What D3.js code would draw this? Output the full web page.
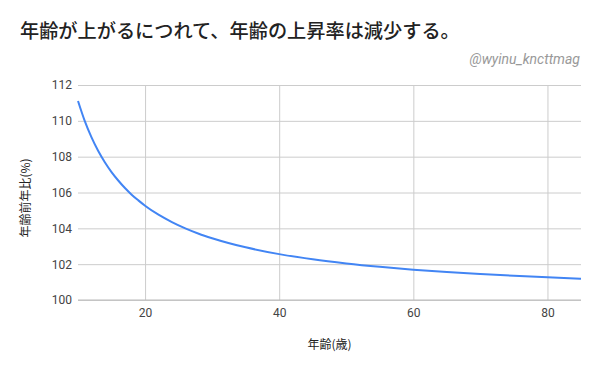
<!DOCTYPE html>
<html>
<head>
<meta charset="utf-8">
<script src="https://cdn.jsdelivr.net/npm/d3@7"></script>
<style>
  body { margin: 0; background: #fff; }
  .tick text { font-family: Roboto, "Liberation Sans", sans-serif; font-size: 12px; fill: #444; }
</style>
</head>
<body>
<div id="chart"></div>
<script>
// Chart data
const ages = [10, 11, 12, 13, 14, 15, 16, 17, 18, 19, 20, 22, 24, 26, 28, 30, 35, 40, 45, 50, 55, 60, 65, 70, 75, 80, 85];
const ratios = [111.11, 110.00, 109.09, 108.33, 107.69, 107.14, 106.67, 106.25, 105.88, 105.56, 105.26, 104.76, 104.35, 104.00, 103.70, 103.45, 102.94, 102.56, 102.27, 102.04, 101.85, 101.69, 101.56, 101.45, 101.35, 101.27, 101.19];
const xTicks = [20, 40, 60, 80];
const yTicks = [100, 102, 104, 106, 108, 110, 112];

const titleText = '年齢が上がるにつれて、年齢の上昇率は減少する。';
const xTitle = '年齢(歳)';
const yTitle = '年齢前年比(%)';
const credit = '@wyinu_kncttmag';

const width = 600;
const height = 371;
const plot = { left: 78, right: 581, top: 85, bottom: 300 };
const cjk = '"Noto Sans CJK JP", "Noto Sans", sans-serif';

const svg = d3.select('#chart').append('svg')
    .attr('width', width)
    .attr('height', height);

// Scales
let xScale = d3.scaleLinear()
    .domain([10, 85])
    .range([plot.left, plot.right]);

let yScale = d3.scaleLinear()
    .domain([100, 112])
    .range([plot.bottom, plot.top]);

// Title + credit
svg.append('text')
    .attr('x', 20)
    .attr('y', 38)
    .style('font-family', cjk)
    .style('font-size', '19.2px')
    .style('font-weight', '500')
    .attr('fill', '#222')
    .text(titleText);

svg.append('text')
    .attr('x', 580)
    .attr('y', 64)
    .attr('text-anchor', 'end')
    .style('font-family', 'Roboto, "Liberation Sans", sans-serif')
    .style('font-size', '14px')
    .style('font-style', 'italic')
    .attr('fill', '#999')
    .text(credit);

// Gridlines
let yAxis = d3.axisLeft(yScale)
    .tickValues(yTicks)
    .tickSize(-(plot.right - plot.left))
    .tickPadding(6)
    .tickFormat(d3.format('d'));

let gy = svg.append('g')
    .attr('transform', `translate(${plot.left},0)`)
    .call(yAxis);
gy.select('.domain').remove();
gy.selectAll('.tick line').attr('stroke', '#ccc');

let xAxis = d3.axisBottom(xScale)
    .tickValues(xTicks)
    .tickSize(-(plot.bottom - plot.top))
    .tickPadding(8)
    .tickFormat(d3.format('d'));

let gx = svg.append('g')
    .attr('transform', `translate(0,${plot.bottom})`)
    .call(xAxis);
gx.select('.domain').remove();
gx.selectAll('.tick line').attr('stroke', '#ccc');

// baseline
svg.append('line')
    .attr('x1', plot.left).attr('x2', plot.right)
    .attr('y1', yScale(100)).attr('y2', yScale(100))
    .attr('stroke', '#bbb');

// Line
let line = d3.line()
    .x((d, i) => xScale(ages[i]))
    .y(d => yScale(d))
    .curve(d3.curveMonotoneX);

svg.append('path')
    .datum(ratios)
    .attr('d', line)
    .attr('fill', 'none')
    .attr('stroke', '#4285f4')
    .attr('stroke-width', 2);

// Axis titles
svg.append('text')
    .attr('x', (plot.left + plot.right) / 2)
    .attr('y', 349)
    .attr('text-anchor', 'middle')
    .style('font-family', cjk)
    .style('font-size', '12px')
    .attr('fill', '#222')
    .text(xTitle);

svg.append('text')
    .attr('transform', 'translate(30,198) rotate(-90)')
    .attr('text-anchor', 'middle')
    .style('font-family', cjk)
    .style('font-size', '12px')
    .attr('fill', '#222')
    .text(yTitle);
</script>
</body>
</html>
